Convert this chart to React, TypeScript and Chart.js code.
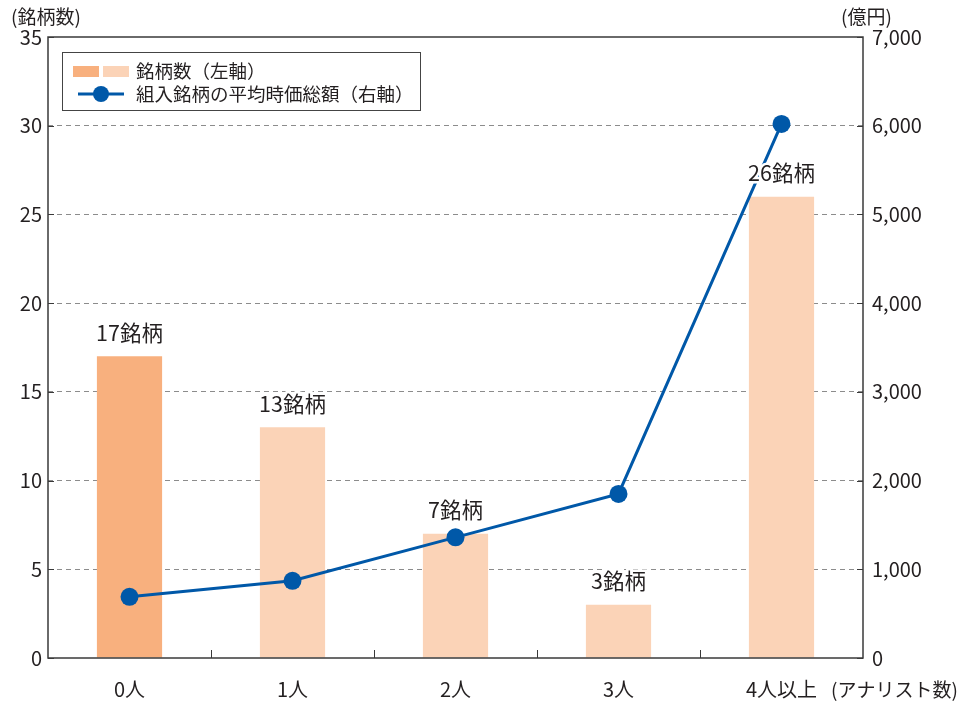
import React, { useEffect, useRef } from 'react';
import { Chart, registerables } from 'chart.js';

Chart.register(...registerables);

const categories = ['0人', '1人', '2人', '3人', '4人以上'];
const stockCounts = [17, 13, 7, 3, 26];
const avgMarketCap = [690, 870, 1360, 1850, 6020];
const barColors = ['#f8b07e', '#fbd3b7', '#fbd3b7', '#fbd3b7', '#fbd3b7'];
const leftAxisTitle = '(銘柄数)';
const rightAxisTitle = '(億円)';
const xAxisSuffix = '(アナリスト数)';
const legendBarLabel = '銘柄数（左軸）';
const legendLineLabel = '組入銘柄の平均時価総額（右軸）';
const barLabelSuffix = '銘柄';

const FONT = "'Noto Sans CJK JP', 'Noto Sans', sans-serif";
const TEXT = '#231f20';
const LINE_COLOR = '#0058a8';

const overlayPlugin = {
  id: 'overlay',
  afterDatasetsDraw(chart: any) {
    const ctx = chart.ctx;
    const meta = chart.getDatasetMeta(1);
    ctx.save();
    ctx.font = `21.5px ${FONT}`;
    ctx.textAlign = 'center';
    ctx.textBaseline = 'middle';
    meta.data.forEach((bar: any, i: number) => {
      const text = `${stockCounts[i]}${barLabelSuffix}`;
      ctx.lineWidth = 5;
      ctx.strokeStyle = '#ffffff';
      ctx.strokeText(text, bar.x, bar.y - 24);
      ctx.fillStyle = TEXT;
      ctx.fillText(text, bar.x, bar.y - 24);
    });
    ctx.restore();
  },
  afterDraw(chart: any) {
    const ctx = chart.ctx;
    const { left, right, top, bottom } = chart.chartArea;
    const x = chart.scales.x;
    const y = chart.scales.y;
    const y1 = chart.scales.y1;
    ctx.save();
    // frame
    ctx.strokeStyle = '#3a3a3a';
    ctx.lineWidth = 1.5;
    ctx.strokeRect(left, top, right - left, bottom - top);
    // x boundary ticks (inward)
    ctx.lineWidth = 1;
    for (let i = 0; i < categories.length - 1; i++) {
      const px = Math.round((x.getPixelForValue(i) + x.getPixelForValue(i + 1)) / 2) + 0.5;
      ctx.beginPath();
      ctx.moveTo(px, bottom);
      ctx.lineTo(px, bottom - 8);
      ctx.stroke();
    }
    // left axis inward ticks
    y.ticks.forEach((t: any) => {
      const py = Math.round(y.getPixelForValue(t.value)) + 0.5;
      ctx.beginPath();
      ctx.moveTo(left, py);
      ctx.lineTo(left + 6, py);
      ctx.stroke();
    });
    // right axis inward ticks
    y1.ticks.forEach((t: any) => {
      const py = Math.round(y1.getPixelForValue(t.value)) + 0.5;
      ctx.beginPath();
      ctx.moveTo(right - 6, py);
      ctx.lineTo(right, py);
      ctx.stroke();
    });
    // axis titles
    ctx.fillStyle = TEXT;
    ctx.font = `19px ${FONT}`;
    ctx.textBaseline = 'middle';
    ctx.textAlign = 'left';
    ctx.fillText(leftAxisTitle, 11, 17);
    ctx.fillText(rightAxisTitle, 841, 17);
    // x axis suffix
    const lastPx = x.getPixelForValue(categories.length - 1);
    ctx.font = `20px ${FONT}`;
    const lastW = ctx.measureText(categories[categories.length - 1]).width;
    ctx.font = `19px ${FONT}`;
    ctx.fillText(xAxisSuffix, lastPx + lastW / 2 + 14, 690);
    // legend
    const lx = left + 14;
    const ly = top + 15;
    ctx.strokeStyle = '#444';
    ctx.lineWidth = 1;
    ctx.strokeRect(lx + 0.5, ly + 0.5, 358, 58);
    ctx.fillStyle = barColors[0];
    ctx.fillRect(lx + 11, ly + 14, 26, 11);
    ctx.fillStyle = barColors[1];
    ctx.fillRect(lx + 41, ly + 14, 26, 11);
    ctx.strokeStyle = LINE_COLOR;
    ctx.lineWidth = 3;
    ctx.beginPath();
    ctx.moveTo(lx + 16, ly + 42);
    ctx.lineTo(lx + 62, ly + 42);
    ctx.stroke();
    ctx.fillStyle = LINE_COLOR;
    ctx.beginPath();
    ctx.arc(lx + 39, ly + 42, 8, 0, Math.PI * 2);
    ctx.fill();
    ctx.fillStyle = TEXT;
    ctx.font = `18.5px ${FONT}`;
    ctx.fillText(legendBarLabel, lx + 74, ly + 19);
    ctx.fillText(legendLineLabel, lx + 74, ly + 42);
    ctx.restore();
  },
};

export default function App() {
  const ref = useRef<HTMLCanvasElement>(null);
  useEffect(() => {
    if (!ref.current) return;
    const chart = new Chart(ref.current, {
      type: 'bar',
      data: {
        labels: categories,
        datasets: [
          {
            type: 'line',
            label: legendLineLabel,
            data: avgMarketCap,
            yAxisID: 'y1',
            borderColor: LINE_COLOR,
            backgroundColor: LINE_COLOR,
            borderWidth: 3,
            pointRadius: 9,
            pointHoverRadius: 9,
            pointBackgroundColor: LINE_COLOR,
            pointBorderWidth: 0,
            order: 0,
          } as any,
          {
            type: 'bar',
            label: legendBarLabel,
            data: stockCounts,
            yAxisID: 'y',
            backgroundColor: barColors,
            barPercentage: 0.4,
            categoryPercentage: 1,
            order: 1,
          },
        ],
      },
      options: {
        responsive: false,
        animation: false,
        layout: { padding: { top: 37, left: 0, right: 0, bottom: 0 } },
        plugins: { legend: { display: false }, tooltip: { enabled: false } },
        scales: {
          x: {
            grid: { display: false, drawTicks: false },
            border: { display: false },
            ticks: { color: TEXT, font: { family: FONT, size: 20 }, padding: 19 },
            afterFit(s: any) { s.height = 44; },
          },
          y: {
            position: 'left',
            min: 0,
            max: 35,
            ticks: { stepSize: 5, color: TEXT, font: { family: FONT, size: 20 }, padding: 6 },
            grid: {
              drawTicks: false,
              color: (c: any) => (c.tick && (c.tick.value === 0 || c.tick.value === 35) ? 'rgba(0,0,0,0)' : '#8c8c8c'),
              lineWidth: 1,
            },
            border: { display: false, dash: [5, 4] },
            afterFit(s: any) { s.width = 48; },
          },
          y1: {
            position: 'right',
            min: 0,
            max: 7000,
            ticks: {
              stepSize: 1000,
              color: TEXT,
              font: { family: FONT, size: 20 },
              padding: 9,
              callback: (v: any) => Number(v).toLocaleString('en-US'),
            },
            grid: { display: false, drawTicks: false },
            border: { display: false },
            afterFit(s: any) { s.width = 99; },
          },
        },
      },
      plugins: [overlayPlugin],
    });
    return () => chart.destroy();
  }, []);
  return (
    <div style={{ position: 'fixed', left: 0, top: 0, width: 962, height: 702, background: '#fff' }}>
      <canvas ref={ref} width={962} height={702} style={{ width: 962, height: 702 }} />
    </div>
  );
}
